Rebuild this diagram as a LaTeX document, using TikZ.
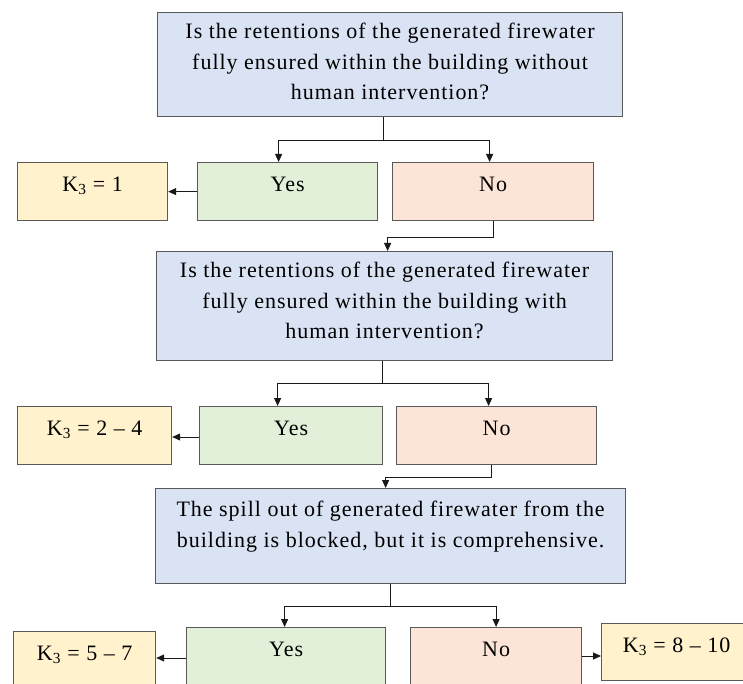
\documentclass[tikz,border=0pt]{standalone}
\usepackage{fontspec}
\setmainfont{Liberation Serif}[LetterSpace=4.5]
\usetikzlibrary{arrows.meta}

\definecolor{qfill}{HTML}{DAE3F3}
\definecolor{yfill}{HTML}{E2F0D9}
\definecolor{nfill}{HTML}{FCE4D6}
\definecolor{kfill}{HTML}{FFF2CC}
\definecolor{edgegray}{HTML}{595959}

% box contents: width, height, first-baseline depth, text (top aligned, centred)
\newcommand{\boxlabel}[4]{\parbox[c][#2pt][t]{#1pt}{\centering\rule{0pt}{#3pt}#4\par}}

\begin{document}
\begin{tikzpicture}[x=1pt,y=-1pt,
  font=\fontsize{22}{30.5}\selectfont,
  box/.style={draw=edgegray, line width=1.2pt, inner sep=0pt, anchor=north west},
  link/.style={draw=black!90, line width=0.9pt},
  arr/.style={link, -{Triangle[length=8pt,width=7pt]}}]
\useasboundingbox (0,0) rectangle (743,684);
\clip (0,0) rectangle (743,684);

% first question
\node[box, fill=qfill] (q1) at (157,12) {\boxlabel{465}{104}{26}{Is the retentions of the generated firewater\\ fully ensured within the building without\\ human intervention?}};
\node[box, fill=yfill] (yes1) at (197,162) {\boxlabel{180}{58}{29}{Yes}};
\node[box, fill=nfill] (no1) at (392,162) {\boxlabel{201}{58}{29}{No}};
\node[box, fill=kfill] (k1) at (17,162) {\boxlabel{150}{58}{29}{K\textsubscript{3} = 1}};

% second question
\node[box, fill=qfill] (q2) at (156,251) {\boxlabel{456}{109}{26}{Is the retentions of the generated firewater\\ fully ensured within the building with\\ human intervention?}};
\node[box, fill=yfill] (yes2) at (199,406) {\boxlabel{183}{58}{29}{Yes}};
\node[box, fill=nfill] (no2) at (396,406) {\boxlabel{200}{58}{29}{No}};
\node[box, fill=kfill] (k2) at (17,406) {\boxlabel{154}{58}{29}{K\textsubscript{3} = 2 – 4}};

% third question
\node[box, fill=qfill] (q3) at (155,488) {\boxlabel{470}{95}{28}{The spill out of generated firewater from the\\ building is blocked, but it is comprehensive.}};
\node[box, fill=yfill] (yes3) at (186,627) {\boxlabel{199}{80}{29}{Yes}};
\node[box, fill=nfill] (no3) at (410,627) {\boxlabel{171}{80}{29}{No}};
\node[box, fill=kfill] (k3) at (13,631) {\boxlabel{142}{80}{29}{K\textsubscript{3} = 5 – 7}};
\node[box, fill=kfill] (k4) at (601,623) {\boxlabel{150}{57}{29}{K\textsubscript{3} = 8 – 10}};

% connectors of the first question
\coordinate (j1) at ([xshift=-6.5pt,yshift=-23pt]q1.south);
\draw[link] ([xshift=-6.5pt]q1.south) -- (j1);
\draw[arr] (j1) -| ([xshift=-9pt]yes1.north);
\draw[arr] (j1) -| ([xshift=-3.5pt]no1.north);
\draw[arr] (yes1.west) -- (k1.east);
\coordinate (j2) at ([yshift=-16pt]no1.south);
\draw[arr] (no1.south) -- (j2) -| ([xshift=3pt]q2.north);

% connectors of the second question
\coordinate (j3) at ([xshift=-2pt,yshift=-22pt]q2.south);
\draw[link] ([xshift=-2pt]q2.south) -- (j3);
\draw[arr] (j3) -| ([xshift=-13.5pt]yes2.north);
\draw[arr] (j3) -| ([xshift=-8pt]no2.north);
\coordinate (y2out) at ([yshift=-31pt]yes2.north west);
\draw[arr] (y2out) -- (y2out -| k2.east);
\coordinate (j4) at ([xshift=-5pt,yshift=-12pt]no2.south);
\draw[arr] ([xshift=-5pt]no2.south) -- (j4) -| ([xshift=-5pt]q3.north);

% connectors of the third question
\coordinate (j5) at ([yshift=-22pt]q3.south);
\draw[link] (q3.south) -- (j5);
\draw[arr] (j5) -| ([xshift=-1.5pt]yes3.north);
\draw[arr] (j5) -| (no3.north);
\coordinate (y3out) at ([yshift=-31pt]yes3.north west);
\draw[arr] (y3out) -- (y3out -| k3.east);
\coordinate (n3out) at ([yshift=-29pt]no3.north east);
\draw[arr] (n3out) -- (n3out -| k4.west);
\end{tikzpicture}
\end{document}
